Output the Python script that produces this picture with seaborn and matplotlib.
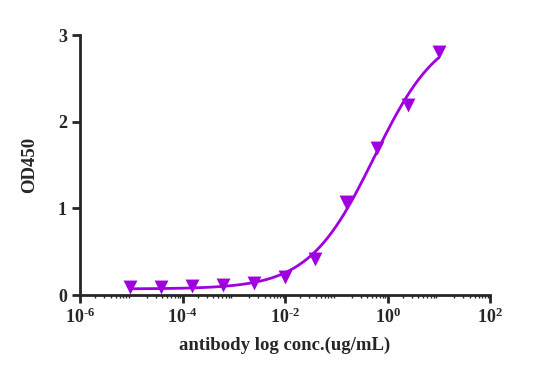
import numpy as np
import pandas as pd
import seaborn as sns
import matplotlib
matplotlib.use('Agg')
import matplotlib.pyplot as plt
from matplotlib.ticker import LogLocator, NullFormatter

# data
conc = [9.5e-6, 3.8e-5, 1.53e-4, 6.1e-4, 2.44e-3, 9.77e-3, 0.039, 0.156, 0.625, 2.5, 10.0]
od450 = [0.09, 0.09, 0.10, 0.11, 0.14, 0.21, 0.41, 1.07, 1.70, 2.19, 2.80]
xtick_pos = [1e-6, 1e-4, 1e-2, 1e0, 1e2]
xtick_exp = ['-6', '-4', '-2', '0', '2']

df = pd.DataFrame({'conc': conc, 'od': od450})

# 4PL fit: grid over ec50/hill, linear least squares for bottom/top
x = np.array(conc)
y = np.array(od450)
best = None
for log_ec in np.linspace(-2, 2, 401):
    for hill in np.linspace(0.3, 2.0, 171):
        s = 1 / (1 + (10**log_ec / x) ** hill)
        A = np.column_stack([np.ones_like(s), s])
        coef, *_ = np.linalg.lstsq(A, y, rcond=None)
        err = np.sum((A @ coef - y) ** 2)
        if best is None or err < best[0]:
            best = (err, log_ec, hill, coef)
_, log_ec, hill, coef = best
xf = np.logspace(np.log10(x.min()), np.log10(x.max()), 300)
sf = 1 / (1 + (10**log_ec / xf) ** hill)
fit = pd.DataFrame({'conc': xf, 'od': coef[0] + coef[1] * sf})

sns.set_style('ticks')
plt.rcParams['font.family'] = ['Liberation Serif', 'DejaVu Serif']
plt.rcParams['font.weight'] = 'bold'
plt.rcParams['mathtext.fontset'] = 'custom'
plt.rcParams['mathtext.rm'] = 'Liberation Serif:bold'
plt.rcParams['mathtext.it'] = 'Liberation Serif:bold'
plt.rcParams['mathtext.bf'] = 'Liberation Serif:bold'
plt.rcParams['mathtext.default'] = 'rm'

purple = '#A000E0'
fig = plt.figure(figsize=(5.5, 3.76), dpi=100)
ax = fig.add_axes([0.1455, 0.2154, 0.891 - 0.1455, 0.9069 - 0.2154])

sns.lineplot(data=fit, x='conc', y='od', color=purple, linewidth=2, ax=ax)
sns.scatterplot(data=df, x='conc', y='od', marker='v', s=100, color=purple,
                edgecolor=purple, linewidth=0, ax=ax, zorder=3, clip_on=False)

ax.set_xscale('log')
ax.set_xlim(1e-6, 1e2)
ax.set_ylim(0, 3)
ax.set_xticks(xtick_pos)
ax.set_xticklabels([r'$10^{\text{%s}}$' % e for e in xtick_exp])
ax.xaxis.set_minor_locator(LogLocator(base=10, subs=np.arange(2, 10), numticks=20))
ax.xaxis.set_minor_formatter(NullFormatter())
ax.set_yticks([0, 1, 2, 3])

for side in ['top', 'right']:
    ax.spines[side].set_visible(False)
for side in ['left', 'bottom']:
    ax.spines[side].set_linewidth(2)
ax.tick_params(axis='both', which='major', width=2, length=6, labelsize=13)
ax.tick_params(axis='x', which='minor', width=1, length=2.5)
ax.tick_params(axis='x', which='major', pad=3)

ax.set_xlabel('antibody log conc.(ug/mL)', fontsize=13.5, fontweight='bold', labelpad=7)
ax.set_ylabel('OD450', fontsize=13.5, fontweight='bold', labelpad=14)

fig.savefig('out.png', dpi=100)
